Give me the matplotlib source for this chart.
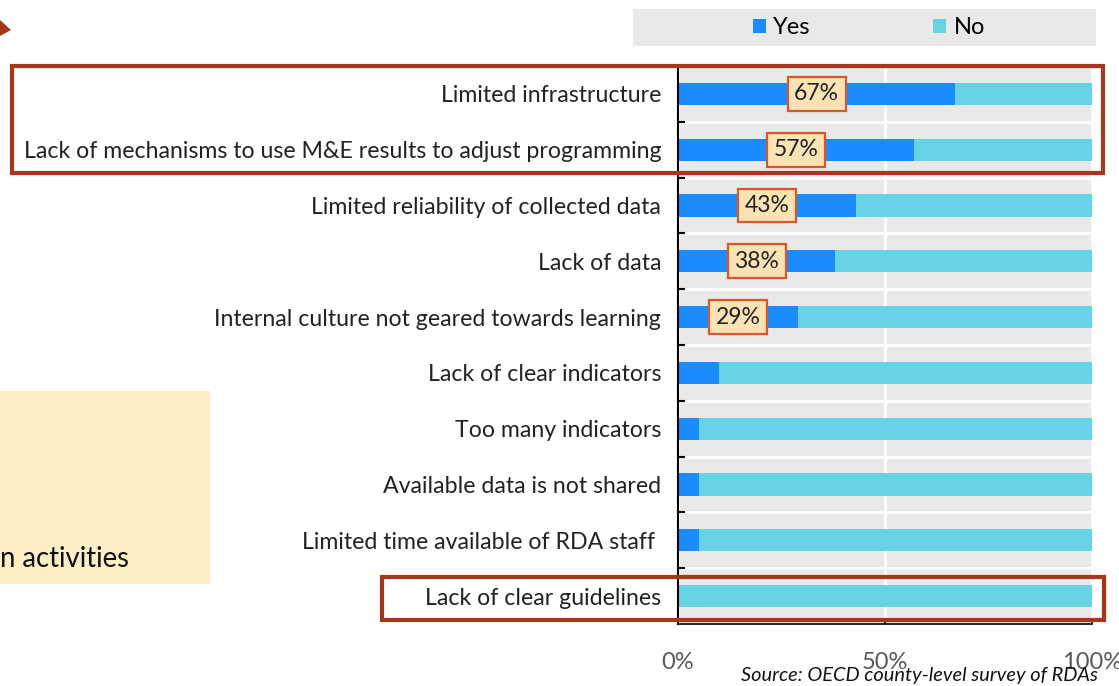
import numpy as np
import matplotlib.pyplot as plt
from matplotlib.patches import Rectangle, Polygon

categories = [
    "Limited infrastructure",
    "Lack of mechanisms to use M&E results to adjust programming",
    "Limited reliability of collected data",
    "Lack of data",
    "Internal culture not geared towards learning",
    "Lack of clear indicators",
    "Too many indicators",
    "Available data is not shared",
    "Limited time available of RDA staff ",
    "Lack of clear guidelines",
]
yes_share = [67, 57, 43, 38, 29, 10, 5, 5, 5, 0]
no_share = [33, 43, 57, 62, 71, 90, 95, 95, 95, 100]
show_label = [True, True, True, True, True, False, False, False, False, False]
x_ticks = [0, 50, 100]
x_tick_labels = ["0%", "50%", "100%"]
series_names = ["Yes", "No"]

W, H = 1119, 686
BLUE = "#1a8cff"
CYAN = "#66d4e5"
GREY = "#e9e9e9"
RED = "#a8361c"

plt.rcParams["font.family"] = ["Lato", "DejaVu Sans"]


def fig_rect(x0, y0, x1, y1):
    # pixel box (top-left origin) -> figure fraction
    return (x0 / W, 1 - y1 / H), (x1 - x0) / W, (y1 - y0) / H


fig = plt.figure(figsize=(W / 100, H / 100), dpi=100)

# decorations from the slide behind the chart
xy, w, h = fig_rect(0, 391, 210, 584)
fig.add_artist(Rectangle(xy, w, h, transform=fig.transFigure, fc="#fdeec6", ec="none"))
fig.text(0 / W, 1 - 559 / H, "n activities", fontsize=19.8, color="#111111", va="center", ha="left")
fig.add_artist(Polygon([(0, 1 - 20 / H), (11 / W, 1 - 30 / H), (0, 1 - 36 / H)],
                       closed=True, transform=fig.transFigure, fc=RED, ec="none"))

# legend background
xy, w, h = fig_rect(633, 9, 1096, 46)
fig.add_artist(Rectangle(xy, w, h, transform=fig.transFigure, fc=GREY, ec="none"))

ax = fig.add_axes([678 / W, 1 - 624 / H, (1092 - 678) / W, 558 / H])
ax.set_facecolor(GREY)

y = np.arange(len(categories))
b1 = ax.barh(y, yes_share, height=0.4, color=BLUE, label=series_names[0], zorder=2)
b2 = ax.barh(y, no_share, left=yes_share, height=0.4, color=CYAN, label=series_names[1], zorder=2)

for i, (v, show) in enumerate(zip(yes_share, show_label)):
    if show:
        ax.text(v / 2, i, f"{v}%", ha="center", va="center", fontsize=16.5, color="#222222", zorder=4,
                bbox=dict(boxstyle="square,pad=0.28", fc="#fde3b4", ec="#d9572a", lw=1.6))

ax.set_xlim(0, 100)
ax.set_ylim(len(categories) - 0.5, -0.5)

ax.set_yticks(y, categories)
ax.set_yticks(np.arange(0.5, len(categories) - 1, 1), minor=True)
ax.tick_params(axis="y", which="major", length=0, pad=12, labelsize=16.7, labelcolor="#222222")
ax.tick_params(axis="y", which="minor", direction="in", length=5, width=1.5, color="black")
ax.grid(axis="y", which="minor", color="white", lw=2)

ax.set_xticks(x_ticks, x_tick_labels)
ax.tick_params(axis="x", direction="in", length=3, width=1.2, pad=20, labelsize=17, labelcolor="#595959")
ax.grid(axis="x", which="major", color="white", lw=2)
ax.set_axisbelow(True)

for side in ["top", "right"]:
    ax.spines[side].set_visible(False)
ax.spines["left"].set_linewidth(1.5)
ax.spines["bottom"].set_linewidth(1.2)

fig.legend(handles=[b1, b2], labels=series_names, loc="center", bbox_to_anchor=(869 / W, 1 - 28 / H),
           ncol=2, frameon=False, fontsize=17, handlelength=0.55, handleheight=0.55,
           handletextpad=0.3, columnspacing=5.2)

# highlight boxes
for x0, y0, x1, y1 in [(12, 66, 1103, 173), (382, 577, 1104, 620)]:
    xy, w, h = fig_rect(x0, y0, x1, y1)
    fig.add_artist(Rectangle(xy, w, h, transform=fig.transFigure, fill=False, ec=RED, lw=3, zorder=10))

fig.text(1098 / W, 1 - 676 / H, "Source: OECD county-level survey of RDAs", fontsize=14.4,
         style="italic", color="#111111", ha="right", va="center")

fig.savefig("out.png", dpi=100)
